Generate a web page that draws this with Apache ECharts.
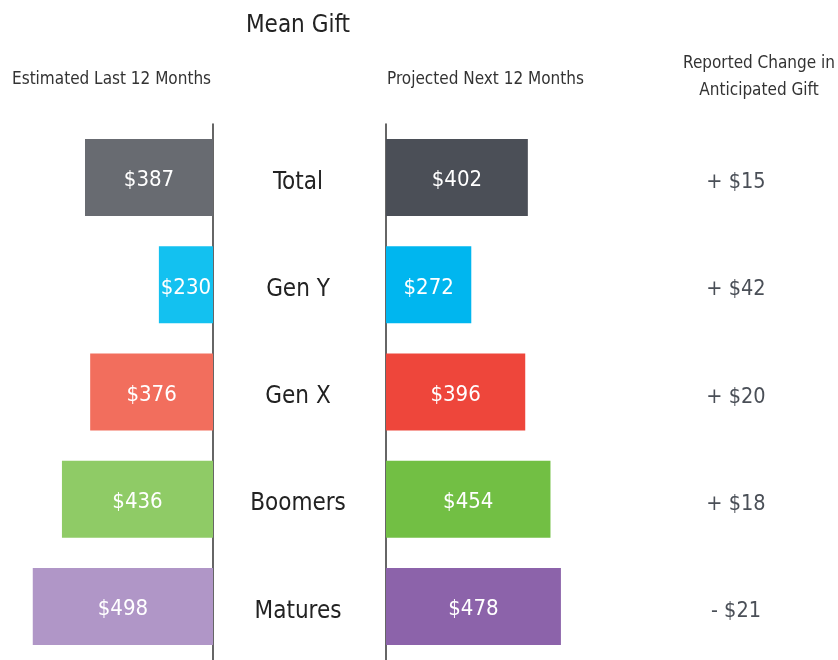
<!DOCTYPE html>
<html>
<head>
<meta charset="utf-8">
<script src="https://cdn.jsdelivr.net/npm/echarts@6/dist/echarts.min.js"></script>
<style>
  html, body { margin: 0; padding: 0; background: #fff; }
  #main { width: 838px; height: 660px; }
</style>
</head>
<body>
<div id="main"></div>
<script>
var categories = ["Total", "Gen Y", "Gen X", "Boomers", "Matures"];
var lastYear = [387, 230, 376, 436, 498];
var nextYear = [402, 272, 396, 454, 478];
var changes = ["+ $15", "+ $42", "+ $20", "+ $18", "- $21"];
var lastColors = ["#686b71", "#13c1f0", "#f26e5d", "#8fcb66", "#b096c7"];
var nextColors = ["#4b4f57", "#00b6ef", "#ee463b", "#72bf44", "#8c63aa"];

// narrow font, falls back to DejaVu condensed
var font = '"Liberation Sans Narrow", "DejaVu Sans Condensed", "Liberation Sans", sans-serif';

var chart = echarts.init(document.getElementById("main"));

chart.setOption({
  animation: false,
  textStyle: { fontFamily: font },
  title: [
    { text: "Mean Gift", left: 298, top: 14, textAlign: "center", padding: 0,
      textStyle: { fontFamily: font, fontSize: 24, fontWeight: "normal", color: "#222" } },
    { text: "Estimated Last 12 Months", left: 12, top: 71, padding: 0,
      textStyle: { fontFamily: font, fontSize: 17, fontWeight: "normal", color: "#333" } },
    { text: "Projected Next 12 Months", left: 387, top: 71, padding: 0,
      textStyle: { fontFamily: font, fontSize: 17, fontWeight: "normal", color: "#333" } },
    { text: "Reported Change in\nAnticipated Gift", left: 759, top: 50, textAlign: "center", padding: 0,
      textStyle: { fontFamily: font, fontSize: 17, fontWeight: "normal", color: "#333", lineHeight: 27 } }
  ],
  grid: [
    { left: 13, right: 625, top: 124, height: 540 },
    { left: 386, width: 228, top: 124, height: 540 }
  ],
  xAxis: [
    { gridIndex: 0, type: "value", inverse: true, min: 115, max: 540, show: false },
    { gridIndex: 1, type: "value", min: 76, max: 600, show: false }
  ],
  yAxis: [
    { gridIndex: 0, type: "category", data: categories, inverse: true, position: "right",
      axisLine: { show: true, lineStyle: { color: "#333", width: 1.5 } },
      axisTick: { show: false }, axisLabel: { show: false } },
    { gridIndex: 1, type: "category", data: categories, inverse: true, position: "left",
      axisLine: { show: true, lineStyle: { color: "#333", width: 1.5 } },
      axisTick: { show: false },
      axisLabel: { align: "center", margin: 88,
        formatter: function (v) { return "{c|" + v + "}"; },
        rich: { c: { fontSize: 24, color: "#222", fontFamily: font, padding: [10, 0, 0, 0] } } } },
    { gridIndex: 1, type: "category", data: categories, inverse: true, position: "right",
      axisLine: { show: false }, axisTick: { show: false },
      axisLabel: { align: "center", margin: 122,
        formatter: function (v, i) { return "{c|" + changes[i] + "}"; },
        rich: { c: { fontSize: 21.5, color: "#4a4f57", fontFamily: font, padding: [10, 0, 0, 0] } } } }
  ],
  series: [
    { type: "bar", xAxisIndex: 0, yAxisIndex: 0, barWidth: 77,
      data: lastYear.map(function (v, i) { return { value: v, itemStyle: { color: lastColors[i] } }; }),
      label: { show: true, position: "inside", color: "#fff", fontSize: 22, fontFamily: font,
        offset: [0, 3], formatter: function (p) { return "$" + p.value; } } },
    { type: "bar", xAxisIndex: 1, yAxisIndex: 1, barWidth: 77,
      data: nextYear.map(function (v, i) { return { value: v, itemStyle: { color: nextColors[i] } }; }),
      label: { show: true, position: "inside", color: "#fff", fontSize: 22, fontFamily: font,
        offset: [0, 3], formatter: function (p) { return "$" + p.value; } } }
  ]
});
</script>
</body>
</html>
